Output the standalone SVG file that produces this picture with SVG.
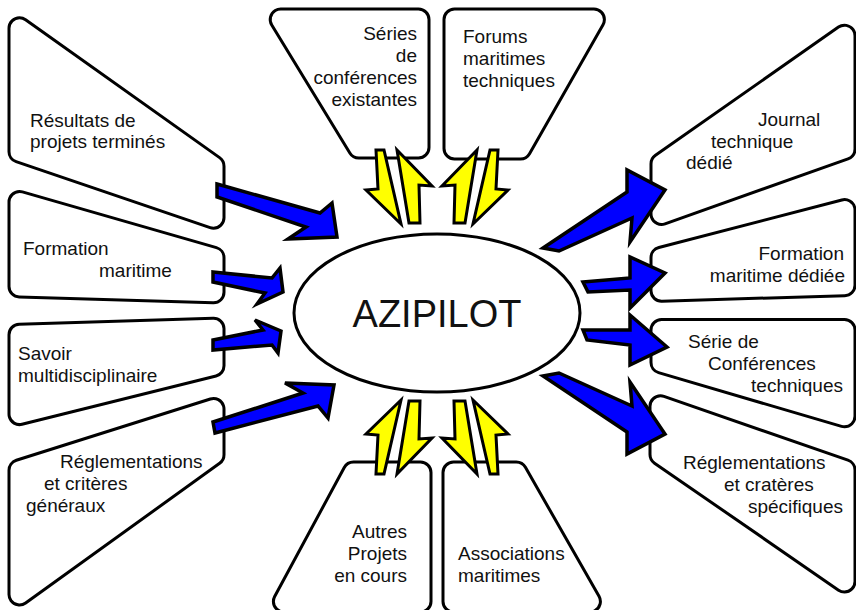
<svg xmlns="http://www.w3.org/2000/svg" xmlns:xlink="http://www.w3.org/1999/xlink" width="856" height="610" viewBox="0 0 856 610">
<style>
.bo{fill:#fff;stroke:#000;stroke-width:24;stroke-linejoin:round}
.bi{fill:#fff;stroke:#fff;stroke-width:18;stroke-linejoin:round}
.t{font-family:"Liberation Sans",Arial,sans-serif;font-size:19px;fill:#111}
.e{text-anchor:end}
.blue{fill:#0000ff;stroke:#000;stroke-width:3.5;stroke-linejoin:miter}
.yel{fill:#ffff00;stroke:#000;stroke-width:3;stroke-linejoin:miter}
</style>
<defs>
<polygon id="c1" points="19.5,28.3 213.5,166.2 213.5,217.7 19.5,151.7"/>
<polygon id="c2" points="19.5,202 213.5,257.7 213.5,292.3 19.5,286.5"/>
<polygon id="c3" points="19.5,334.7 213.5,328.8 213.5,365.8 19.5,414.1"/>
<polygon id="c4" points="19.5,470.3 213.5,409 213.5,454.8 19.5,594.4"/>
<polygon id="c5" points="280.7,19.5 418.5,19.5 418.5,147.5 358.8,147.5"/>
<polygon id="c6" points="454.5,19.5 593.9,19.5 520.4,148.5 454.5,148.5"/>
<polygon id="c7" points="661.5,163.9 844.5,35.7 844.5,148.9 661.5,213.9"/>
<polygon id="c8" points="661.5,257.7 844.5,210.1 844.5,285.2 661.5,290.7"/>
<polygon id="c9" points="661.5,330 844.5,330 844.5,416.3 661.5,362.5"/>
<polygon id="c10" points="660.5,406.3 844.5,470.1 844.5,581.5 660.5,454.5"/>
<polygon id="c11" points="353.5,472.5 420.5,472.5 420.5,601.5 283.9,601.5"/>
<polygon id="c12" points="453.5,472.5 516.3,472.5 589.9,601.5 453.5,601.5"/>
<g id="ypair">
<polygon class="yel" points="376,150 384,150 401,224 366,190 378,189"/>
<polygon class="yel" points="397,150 432,186 419,185 420,223 409,223"/>
</g>
</defs>

<g id="node-resultats"><use xlink:href="#c1" class="bo"/><use xlink:href="#c1" class="bi"/>
<text class="t" x="30" y="127">Résultats de</text><text class="t" x="30" y="148">projets terminés</text></g>
<g id="node-formation"><use xlink:href="#c2" class="bo"/><use xlink:href="#c2" class="bi"/>
<text class="t" x="23" y="255">Formation</text><text class="t" x="99" y="277">maritime</text></g>
<g id="node-savoir"><use xlink:href="#c3" class="bo"/><use xlink:href="#c3" class="bi"/>
<text class="t" x="18" y="360">Savoir</text><text class="t" x="18" y="382">multidisciplinaire</text></g>
<g id="node-reglementations-generaux"><use xlink:href="#c4" class="bo"/><use xlink:href="#c4" class="bi"/>
<text class="t" x="60" y="468">Réglementations</text><text class="t" x="44" y="490">et critères</text><text class="t" x="26" y="512">généraux</text></g>
<g id="node-series"><use xlink:href="#c5" class="bo"/><use xlink:href="#c5" class="bi"/>
<text class="t e" x="417" y="39.5">Séries</text><text class="t e" x="417" y="62">de</text><text class="t e" x="417" y="84">conférences</text><text class="t e" x="417" y="106">existantes</text></g>
<g id="node-forums"><use xlink:href="#c6" class="bo"/><use xlink:href="#c6" class="bi"/>
<text class="t" x="463" y="43">Forums</text><text class="t" x="463" y="65">maritimes</text><text class="t" x="463" y="87">techniques</text></g>
<g id="node-journal"><use xlink:href="#c7" class="bo"/><use xlink:href="#c7" class="bi"/>
<text class="t" x="758" y="126">Journal</text><text class="t" x="711" y="148">technique</text><text class="t" x="686" y="169">dédié</text></g>
<g id="node-formation-dediee"><use xlink:href="#c8" class="bo"/><use xlink:href="#c8" class="bi"/>
<text class="t e" x="844" y="260">Formation</text><text class="t e" x="845" y="282">maritime dédiée</text></g>
<g id="node-serie-conferences"><use xlink:href="#c9" class="bo"/><use xlink:href="#c9" class="bi"/>
<text class="t" x="688" y="348">Série de</text><text class="t" x="708" y="370">Conférences</text><text class="t e" x="843" y="392">techniques</text></g>
<g id="node-reglementations-specifiques"><use xlink:href="#c10" class="bo"/><use xlink:href="#c10" class="bi"/>
<text class="t" x="683" y="469">Réglementations</text><text class="t" x="724" y="491">et cratères</text><text class="t e" x="843" y="513">spécifiques</text></g>
<g id="node-autres"><use xlink:href="#c11" class="bo"/><use xlink:href="#c11" class="bi"/>
<text class="t e" x="407" y="538">Autres</text><text class="t e" x="407" y="560">Projets</text><text class="t e" x="407" y="582">en cours</text></g>
<g id="node-associations"><use xlink:href="#c12" class="bo"/><use xlink:href="#c12" class="bi"/>
<text class="t" x="458" y="560">Associations</text><text class="t" x="458" y="582">maritimes</text></g>

<g id="node-azipilot">
<ellipse cx="437" cy="313" rx="143" ry="79" fill="#fff" stroke="#000" stroke-width="3"/>
<text x="437" y="327" text-anchor="middle" font-family="Liberation Sans, Arial, sans-serif" font-size="38" fill="#111">AZIPILOT</text>
</g>

<g id="connectors">
<polygon class="blue" points="217,184 320,213 332,203 337,237 288,239 306,227 217,197"/>
<polygon class="blue" points="213,272 272,278 280,268 283,292 257,304 265,293 213,282"/>
<polygon class="blue" points="213,340 263,330 255,320 281,331 278,353 272,345 213,350"/>
<polygon class="blue" points="213,422 303,393 285,383 334,385 328,418 318,406 215,433"/>
<polygon class="blue" points="543,248 627,192 627,170 665,190 630,242 632,218 559,251"/>
<polygon class="blue" points="583,282 630,278 630,257 665,273 630,308 630,290 588,292"/>
<polygon class="blue" points="583,330 630,330 630,315 667,347 630,365 630,345 587,340"/>
<polygon class="blue" points="559,373 632,406 630,382 665,434 627,454 627,432 543,376"/>
<use xlink:href="#ypair"/>
<use xlink:href="#ypair" transform="matrix(-1 0 0 1 874 0)"/>
<use xlink:href="#ypair" transform="matrix(1 0 0 -1 0 624)"/>
<use xlink:href="#ypair" transform="matrix(-1 0 0 -1 874 624)"/>
</g>
</svg>
